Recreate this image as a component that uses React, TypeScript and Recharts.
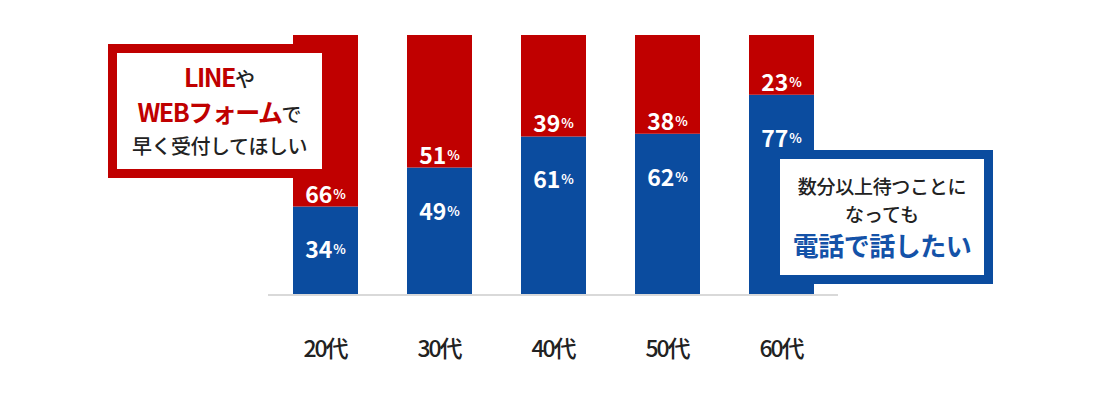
import React from "react"
import { BarChart, Bar, XAxis, YAxis, LabelList } from "recharts"

const ageGroups = ["20代", "30代", "40代", "50代", "60代"]
const phoneShare = [34, 49, 61, 62, 77]
const onlineShare = [66, 51, 39, 38, 23]

const RED = "#C00000"
const BLUE = "#0B4C9F"
const FONT = "'Noto Sans CJK JP', 'Noto Sans', sans-serif"

const chartData = ageGroups.map((age, i) => ({
  age,
  phone: phoneShare[i],
  online: onlineShare[i],
}))

const AgeTick = ({ x, y, payload }: any) => (
  <text
    x={x}
    y={y + 52}
    textAnchor="middle"
    dominantBaseline="central"
    fontFamily={FONT}
    fontSize={23}
    fontWeight={500}
    letterSpacing={-2}
    fill="#222"
  >
    {payload.value}
  </text>
)

const pctLabel = (cx: number, cy: number, value: number) => (
  <text x={cx} y={cy} textAnchor="middle" dominantBaseline="central" fontFamily={FONT} fontWeight={700} fill="#fff">
    <tspan fontSize={23}>{value}</tspan>
    <tspan fontSize={13} dx={1}>%</tspan>
  </text>
)

// red label sits just above the red/blue boundary
const OnlineLabel = (props: any) => {
  const { x, y, width, height, value } = props
  return pctLabel(x + width / 2, y + height - 14, value)
}

// blue label near the top of the blue part, but never below its middle
const PhoneLabel = (props: any) => {
  const { x, y, width, height, value } = props
  return pctLabel(x + width / 2, Math.min(y + 42, y + height / 2 - 3), value)
}

export default function App() {
  return (
    <div style={{ position: "absolute", left: 0, top: 0, width: 1100, height: 399, background: "#fff" }}>
      <BarChart
        width={1100}
        height={399}
        data={chartData}
        margin={{ top: 35, right: 262, left: 268, bottom: 64 }}
        barSize={65}
      >
        <XAxis
          dataKey="age"
          height={40}
          axisLine={{ stroke: "#d9d9d9", strokeWidth: 2 }}
          tickLine={false}
          tickSize={0}
          tickMargin={0}
          tick={<AgeTick />}
        />
        <YAxis hide domain={[0, 100]} />
        <Bar dataKey="phone" stackId="a" fill={BLUE} isAnimationActive={false}>
          <LabelList dataKey="phone" content={PhoneLabel} />
        </Bar>
        <Bar dataKey="online" stackId="a" fill={RED} isAnimationActive={false}>
          <LabelList dataKey="online" content={OnlineLabel} />
        </Bar>
      </BarChart>

      {/* left callout */}
      <div
        style={{
          position: "absolute",
          left: 108,
          top: 44,
          width: 205,
          height: 116,
          border: `9px solid ${RED}`,
          background: "#fff",
          display: "flex",
          flexDirection: "column",
          justifyContent: "center",
          alignItems: "center",
          fontFamily: FONT,
          color: "#222",
          fontSize: 20,
          fontWeight: 500,
          lineHeight: "32px",
        }}
      >
        <div>
          <span style={{ color: RED, fontWeight: 700, fontSize: 25, letterSpacing: -1.5 }}>LINE</span>
          <span>や</span>
        </div>
        <div>
          <span style={{ color: RED, fontWeight: 700, fontSize: 25, letterSpacing: -1.5 }}>WEBフォーム</span>
          <span>で</span>
        </div>
        <div style={{ letterSpacing: -0.5 }}>早く受付してほしい</div>
      </div>

      {/* right callout */}
      <div
        style={{
          position: "absolute",
          left: 771,
          top: 150,
          width: 204,
          height: 116,
          border: `9px solid ${BLUE}`,
          background: "#fff",
          display: "flex",
          flexDirection: "column",
          justifyContent: "center",
          alignItems: "center",
          fontFamily: FONT,
          color: "#222",
          fontSize: 19,
          fontWeight: 500,
        }}
      >
        <div style={{ lineHeight: "28px", letterSpacing: -0.3 }}>数分以上待つことに</div>
        <div style={{ lineHeight: "28px" }}>なっても</div>
        <div style={{ lineHeight: "34px", color: "#1452A8", fontWeight: 700, fontSize: 26, letterSpacing: -0.5 }}>
          電話で話したい
        </div>
      </div>
    </div>
  )
}
